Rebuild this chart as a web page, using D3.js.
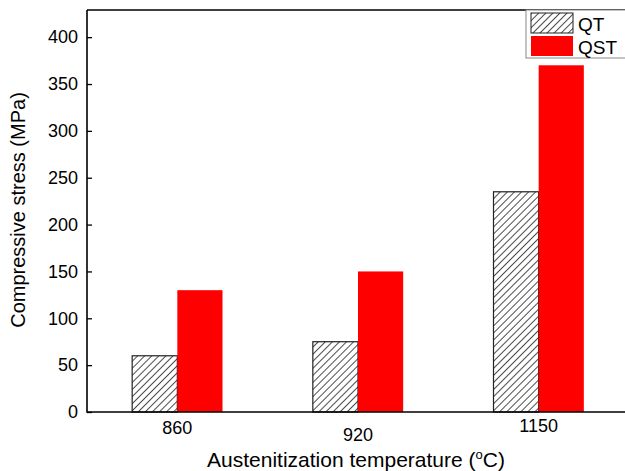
<!DOCTYPE html>
<html>
<head>
<meta charset="utf-8">
<script src="https://cdn.jsdelivr.net/npm/d3@7"></script>
<style>
  body { margin: 0; background: #fff; }
  text { font-family: "Liberation Sans", Arial, sans-serif; }
</style>
</head>
<body>
<svg id="chart" width="625" height="471"></svg>
<script>
const categories = ["860", "920", "1150"];
const labelShift = [0, 7, -2];      // the tick labels sit at slightly different heights
const seriesNames = ["QT", "QST"];
const qtValues = [60, 75, 235];
const qstValues = [130, 150, 370];
const yTicks = [0, 50, 100, 150, 200, 250, 300, 350, 400];

const svg = d3.select("#chart");
const margin = {left: 87, top: 10, right: -4, bottom: 60};
const W = 625, H = 471;

const x = d3.scaleBand()
    .domain(categories)
    .range([margin.left, W - margin.right])
    .paddingInner(0.5)
    .paddingOuter(0.25);

const xs = d3.scaleBand()
    .domain(seriesNames)
    .range([0, x.bandwidth()]);

const y = d3.scaleLinear()
    .domain([0, 429])
    .range([H - margin.bottom + 1, margin.top]);

// hatch pattern
const defs = svg.append("defs");
const pat = defs.append("pattern")
    .attr("id", "hatch")
    .attr("patternUnits", "userSpaceOnUse")
    .attr("width", 5).attr("height", 5)
    .attr("patternTransform", "rotate(45)");
pat.append("rect").attr("width", 5).attr("height", 5).attr("fill", "#fff");
pat.append("line")
    .attr("x1", 0).attr("y1", 0).attr("x2", 0).attr("y2", 5)
    .attr("stroke", "#111").attr("stroke-width", 1.5);

const rows = categories.map((c, i) => ({cat: c, QT: qtValues[i], QST: qstValues[i]}));

const groups = svg.append("g").selectAll("g")
    .data(rows)
    .join("g")
    .attr("transform", d => `translate(${x(d.cat)},0)`);

groups.append("rect")
    .attr("x", xs("QT"))
    .attr("y", d => y(d.QT))
    .attr("width", xs.bandwidth())
    .attr("height", d => y(0) - y(d.QT))
    .attr("fill", "url(#hatch)")
    .attr("stroke", "#222")
    .attr("stroke-width", 1.2);

groups.append("rect")
    .attr("x", xs("QST"))
    .attr("y", d => y(d.QST))
    .attr("width", xs.bandwidth())
    .attr("height", d => y(0) - y(d.QST))
    .attr("fill", "#ff0000");

// axes
const yAxis = svg.append("g")
    .attr("transform", `translate(${margin.left},0)`)
    .call(d3.axisLeft(y).tickValues(yTicks).tickSizeInner(-5).tickSizeOuter(0).tickPadding(9));
yAxis.select(".domain").remove();
yAxis.selectAll(".tick line").attr("stroke", "#000").attr("stroke-width", 1.3);
yAxis.selectAll(".tick text").attr("font-size", 18).attr("fill", "#000");

const xAxis = svg.append("g")
    .attr("transform", `translate(0,${y(0)})`)
    .call(d3.axisBottom(x).tickSize(0).tickPadding(9));
xAxis.select(".domain").remove();
xAxis.selectAll(".tick text")
    .attr("font-size", 18).attr("fill", "#000")
    .attr("dy", (d, i) => (0.71 * 18 + labelShift[i]) + "px");

// frame: left, bottom, top
svg.append("path")
    .attr("d", `M${margin.left},${margin.top}V${y(0)}H${W}M${margin.left},${margin.top}H${W}`)
    .attr("fill", "none")
    .attr("stroke", "#000")
    .attr("stroke-width", 1.6);

// legend
const lg = svg.append("g").attr("transform", "translate(526,10)");
lg.append("rect")
    .attr("x", 0).attr("y", 0).attr("width", 110).attr("height", 48)
    .attr("fill", "#fff").attr("stroke", "#888").attr("stroke-width", 1);
const legendItems = lg.selectAll("g.item")
    .data(seriesNames)
    .join("g")
    .attr("class", "item")
    .attr("transform", (d, i) => `translate(5,${3 + i * 23})`);
legendItems.append("rect")
    .attr("width", 42).attr("height", 20)
    .attr("fill", d => d === "QT" ? "url(#hatch)" : "#ff0000")
    .attr("stroke", d => d === "QT" ? "#222" : "none");
legendItems.append("text")
    .attr("x", 47).attr("y", 11).attr("dy", "0.35em")
    .attr("font-size", 19).attr("fill", "#000")
    .text(d => d);

// axis titles
svg.append("text")
    .attr("transform", `translate(25,210) rotate(-90)`)
    .attr("text-anchor", "middle")
    .attr("font-size", 20).attr("fill", "#000")
    .text("Compressive stress (MPa)");

const xt = svg.append("text")
    .attr("x", 356).attr("y", 467)
    .attr("text-anchor", "middle")
    .attr("font-size", 21).attr("fill", "#000");
xt.append("tspan").text("Austenitization temperature (");
xt.append("tspan").attr("font-size", 13).attr("dy", -8).text("o");
xt.append("tspan").attr("dy", 8).text("C)");
</script>
</body>
</html>
